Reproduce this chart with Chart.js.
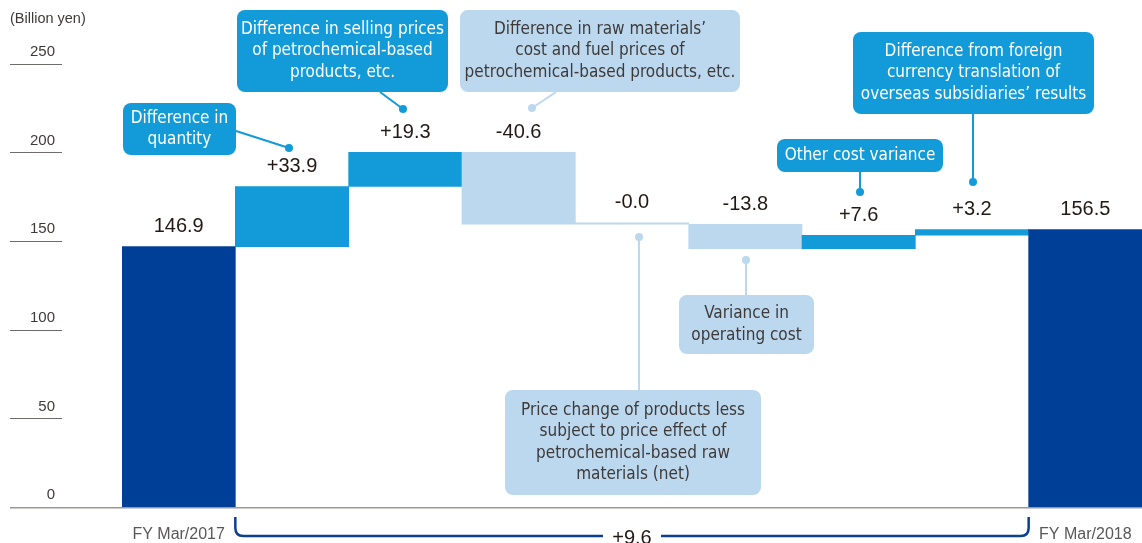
<!DOCTYPE html>
<html>
<head>
<meta charset="utf-8">
<script src="https://cdn.jsdelivr.net/npm/chart.js@4"></script>
<style>
  html, body { margin: 0; padding: 0; background: #fff; overflow: hidden; }
  canvas { display: block; }
</style>
</head>
<body>
<canvas id="chart" width="1142" height="543"></canvas>
<script>
// chart values
const categories = ["FY Mar/2017", "", "", "", "", "", "", "", "FY Mar/2018"];
const startValue = 146.9;
const changes = [33.9, 19.3, -40.6, -0.0, -13.8, 7.6, 3.2];
const endValue = 156.5;
const valueLabels = ["146.9", "+33.9", "+19.3", "-40.6", "-0.0", "-13.8", "+7.6", "+3.2", "156.5"];
const yTicks = [0, 50, 100, 150, 200, 250];
const totalChangeLabel = "+9.6";

const NAVY = "#003f98";
const BRIGHT = "#129bd8";
const LIGHT = "#bcd8ef";
const TEXT = "#231815";
const NARROW = '"Liberation Sans Narrow", "DejaVu Sans Condensed", "Roboto", sans-serif';

// floating bars for the waterfall
const bars = [[0, startValue]];
let running = startValue;
changes.forEach((c) => {
  const next = Math.round((running + c) * 10) / 10;
  bars.push([running, next]);
  running = next;
});
bars.push([0, endValue]);

const barColors = bars.map((b, i) => {
  if (i === 0 || i === bars.length - 1) return NAVY;
  return valueLabels[i][0] === "-" ? LIGHT : BRIGHT;
});

// callout boxes (layout only)
const callouts = [
  { lines: ["Difference in", "quantity"], box: [123, 103, 113, 52], from: [236, 131], dot: [289, 148], dark: true },
  { lines: ["Difference in selling prices", "of petrochemical-based", "products, etc."], box: [237, 10, 211, 82], from: [380, 92], dot: [403, 109], dark: true },
  { lines: ["Difference in raw materials\u2019", "cost and fuel prices of", "petrochemical-based products, etc."], box: [460, 10, 280, 82], from: [556, 92], dot: [532, 108], dark: false },
  { lines: ["Other cost variance"], box: [777, 139, 166, 33], from: [860, 172], dot: [860, 192], dark: true },
  { lines: ["Difference from foreign", "currency translation of", "overseas subsidiaries\u2019 results"], box: [853, 32, 241, 82], from: [973, 114], dot: [973, 182], dark: true },
  { lines: ["Variance in", "operating cost"], box: [679, 295, 135, 59], from: [746, 295], dot: [746, 260], dark: false },
  { lines: ["Price change of products less", "subject to price effect of", "petrochemical-based raw", "materials (net)"], box: [505, 390, 256, 105], from: [639, 390], dot: [639, 237], dark: false },
];

const decorPlugin = {
  id: "decor",
  afterDatasetsDraw(chart) {
    const ctx = chart.ctx;
    const yScale = chart.scales.y;
    const area = chart.chartArea;
    const meta = chart.getDatasetMeta(0);
    ctx.save();

    // unit
    ctx.fillStyle = "#3e3a39";
    ctx.font = '14.5px "Liberation Sans", Arial, sans-serif';
    ctx.textAlign = "left";
    ctx.textBaseline = "middle";
    ctx.fillText("(Billion yen)", 10, 19);

    // short tick lines under the y labels
    ctx.strokeStyle = "#6e6b6a";
    ctx.lineWidth = 1;
    yTicks.forEach((v) => {
      if (v === 0) return;
      const y = Math.round(yScale.getPixelForValue(v)) + 0.5;
      ctx.beginPath();
      ctx.moveTo(10, y);
      ctx.lineTo(62, y);
      ctx.stroke();
    });

    // baseline
    const y0 = yScale.getPixelForValue(0);
    ctx.strokeStyle = "#9c9896";
    ctx.lineWidth = 1.5;
    ctx.beginPath();
    ctx.moveTo(10, y0 + 0.75);
    ctx.lineTo(area.right, y0 + 0.75);
    ctx.stroke();

    // value labels
    ctx.fillStyle = TEXT;
    ctx.font = '20px "Liberation Sans", Arial, sans-serif';
    ctx.textAlign = "center";
    ctx.textBaseline = "middle";
    meta.data.forEach((el, i) => {
      const top = Math.min(el.y, el.base);
      ctx.fillText(valueLabels[i], el.x, top - 20);
    });

    // callouts
    callouts.forEach((c) => {
      const col = c.dark ? BRIGHT : LIGHT;
      ctx.strokeStyle = col;
      ctx.fillStyle = col;
      ctx.lineWidth = 2;
      ctx.beginPath();
      ctx.moveTo(c.from[0], c.from[1]);
      ctx.lineTo(c.dot[0], c.dot[1]);
      ctx.stroke();
      ctx.beginPath();
      ctx.arc(c.dot[0], c.dot[1], 4, 0, Math.PI * 2);
      ctx.fill();
      const [bx, by, bw, bh] = c.box;
      ctx.beginPath();
      ctx.roundRect(bx, by, bw, bh, 8);
      ctx.fill();
      ctx.fillStyle = c.dark ? "#ffffff" : "#3e3a39";
      ctx.font = "17px " + NARROW;
      const lh = 21.5;
      const cy = by + bh / 2 - ((c.lines.length - 1) * lh) / 2;
      c.lines.forEach((t, k) => ctx.fillText(t, bx + bw / 2, cy + k * lh));
    });

    // bracket for the total change
    const first = meta.data[1];
    const last = meta.data[meta.data.length - 1];
    const xl = first.x - first.width / 2;
    const xr = last.x - last.width / 2;
    const yt = y0 + 10;
    const yb = y0 + 29;
    const r = 8;
    const xm = (xl + xr) / 2;
    ctx.strokeStyle = "#0d3f8f";
    ctx.lineWidth = 2.5;
    ctx.beginPath();
    ctx.moveTo(xl, yt);
    ctx.lineTo(xl, yb - r);
    ctx.quadraticCurveTo(xl, yb, xl + r, yb);
    ctx.lineTo(xm - 29, yb);
    ctx.moveTo(xm + 29, yb);
    ctx.lineTo(xr - r, yb);
    ctx.quadraticCurveTo(xr, yb, xr, yb - r);
    ctx.lineTo(xr, yt);
    ctx.stroke();
    ctx.fillStyle = TEXT;
    ctx.font = '20px "Liberation Sans", Arial, sans-serif';
    ctx.textAlign = "center";
    ctx.textBaseline = "middle";
    ctx.fillText(totalChangeLabel, xm, yb + 2);

    ctx.restore();
  },
};

new Chart(document.getElementById("chart"), {
  type: "bar",
  data: {
    labels: categories,
    datasets: [
      {
        data: bars,
        backgroundColor: barColors,
        borderWidth: 0,
        barPercentage: 1,
        categoryPercentage: 1,
        minBarLength: 1.5,
      },
    ],
  },
  options: {
    responsive: false,
    animation: false,
    layout: { padding: 0 },
    plugins: { legend: { display: false }, tooltip: { enabled: false } },
    scales: {
      x: {
        grid: { display: false },
        border: { display: false },
        ticks: {
          autoSkip: false,
          maxRotation: 0,
          padding: 10,
          color: "#595757",
          font: { family: '"Liberation Sans", Arial, sans-serif', size: 16 },
        },
        afterFit: (scale) => {
          scale.height = 36;
          scale.paddingLeft = 0;
          scale.paddingRight = 0;
        },
      },
      y: {
        min: 0,
        max: 286,
        grid: { display: false, drawTicks: false },
        border: { display: false },
        ticks: {
          padding: 67,
          labelOffset: -12,
          color: "#3e3a39",
          font: { family: '"Liberation Sans", Arial, sans-serif', size: 15 },
        },
        afterBuildTicks: (scale) => { scale.ticks = yTicks.map((v) => ({ value: v })); },
        afterFit: (scale) => {
          scale.width = 122;
          scale.paddingTop = 0;
          scale.paddingBottom = 0;
        },
      },
    },
  },
  plugins: [decorPlugin],
});
</script>
</body>
</html>
